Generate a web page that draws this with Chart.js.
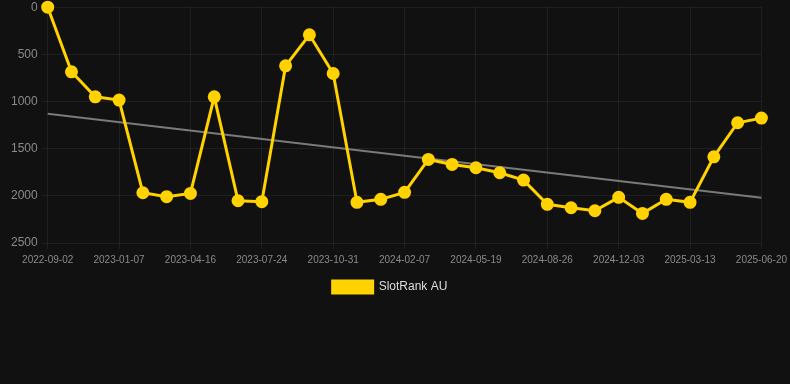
<!DOCTYPE html>
<html>
<head>
<meta charset="utf-8">
<script src="https://cdn.jsdelivr.net/npm/chart.js@4"></script>
<style>
  html, body { margin: 0; padding: 0; background: #111111; overflow: hidden; }
  .wrap { position: relative; width: 792px; height: 315px; margin-top: -4px; }
</style>
</head>
<body>
<div class="wrap"><canvas id="rankChart"></canvas></div>
<script>
// dates of each observation
const dates = [
  '2022-09-02', '2022-10-15', '2022-11-26', '2023-01-07', '2023-02-09', '2023-03-14',
  '2023-04-16', '2023-05-19', '2023-06-21', '2023-07-24', '2023-08-26', '2023-09-28',
  '2023-10-31', '2023-12-03', '2024-01-05', '2024-02-07', '2024-03-11', '2024-04-15',
  '2024-05-19', '2024-06-21', '2024-07-24', '2024-08-26', '2024-09-28', '2024-10-31',
  '2024-12-03', '2025-01-05', '2025-02-08', '2025-03-13', '2025-04-15', '2025-05-18',
  '2025-06-20'
]

// rank values (lower is better, axis reversed)
const rankAU = [
  0, 685, 950, 985, 1967, 2009, 1974, 950, 2052, 2062, 622, 293,
  703, 2069, 2037, 1963, 1614, 1667, 1702, 1755, 1833, 2090, 2126, 2158,
  2016, 2186, 2037, 2069, 1586, 1225, 1176
]

// trend line endpoints
const trendStart = 1130
const trendEnd = 2020

const yTicks = [0, 500, 1000, 1500, 2000, 2500]

const gold = '#ffd200'
const gridColor = 'rgba(255,255,255,0.06)'

new Chart(document.getElementById('rankChart'), {
  type: 'line',
  data: {
    labels: dates,
    datasets: [
      {
        label: 'SlotRank AU',
        data: rankAU,
        borderColor: gold,
        backgroundColor: gold,
        borderWidth: 3,
        pointRadius: 5,
        pointHoverRadius: 5,
        pointBackgroundColor: gold,
        pointBorderColor: gold,
        tension: 0,
        clip: false
      },
      {
        label: 'trend',
        data: [{ x: dates[0], y: trendStart }, { x: dates[dates.length - 1], y: trendEnd }],
        borderColor: '#7a7a7a',
        borderWidth: 2,
        pointRadius: 0,
        fill: false
      }
    ]
  },
  options: {
    responsive: true,
    maintainAspectRatio: false,
    animation: false,
    layout: { padding: { left: 7, right: 19, top: 0, bottom: 8 } },
    scales: {
      x: {
        grid: { color: gridColor, tickLength: 6 },
        border: { display: false },
        ticks: {
          color: '#8a8a8a',
          font: { family: 'Arial, "Liberation Sans", sans-serif', size: 10 },
          autoSkip: true,
          maxTicksLimit: 11,
          maxRotation: 0,
          padding: 5
        }
      },
      y: {
        reverse: true,
        min: 0,
        max: 2500,
        afterBuildTicks: axis => { axis.ticks = yTicks.map(v => ({ value: v })) },
        grid: { color: gridColor, tickLength: 6 },
        border: { display: false },
        ticks: {
          color: '#8a8a8a',
          font: { family: 'Arial, "Liberation Sans", sans-serif', size: 12 },
          padding: 4,
          callback: v => String(v)
        }
      }
    },
    plugins: {
      legend: {
        position: 'bottom',
        labels: {
          color: '#dddddd',
          font: { family: 'Arial, "Liberation Sans", sans-serif', size: 12 },
          boxWidth: 40,
          boxHeight: 12,
          padding: 10,
          filter: item => item.text !== 'trend'
        }
      },
      tooltip: { enabled: false }
    }
  }
})
</script>
</body>
</html>
